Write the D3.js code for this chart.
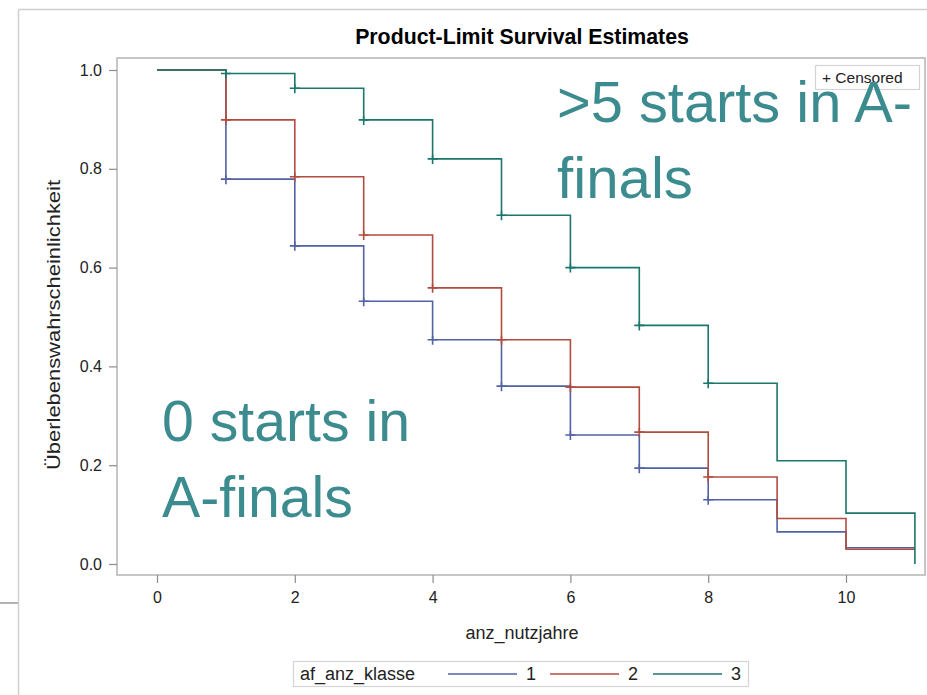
<!DOCTYPE html>
<html>
<head>
<meta charset="utf-8">
<script src="https://cdn.jsdelivr.net/npm/d3@7"></script>
<style>
  body { margin: 0; background: #fff; }
  svg { display: block; }
  .sas text { font-family: "Liberation Sans", Arial, sans-serif; fill: #222; }
</style>
</head>
<body>
<div id="chart"></div>
<script>
// Zeitpunkte (anz_nutzjahre) und Kaplan-Meier Schätzer je Gruppe
const times = [0, 1, 2, 3, 4, 5, 6, 7, 8, 9, 10, 11];
const surv1 = [1, 0.779, 0.644, 0.532, 0.454, 0.360, 0.261, 0.194, 0.130, 0.065, 0.033, 0.033];
const surv2 = [1, 0.899, 0.784, 0.666, 0.559, 0.454, 0.358, 0.267, 0.176, 0.092, 0.030, 0.030];
const surv3 = [1, 0.993, 0.963, 0.899, 0.820, 0.706, 0.600, 0.483, 0.366, 0.209, 0.103, 0];
// zensierte Beobachtungen
const cens1 = [1, 2, 3, 4, 5, 6, 7, 8];
const cens2 = [1, 2, 3, 4, 5, 6, 7, 8];
const cens3 = [1, 2, 3, 4, 5, 6, 7, 8];

const groups = ['1', '2', '3'];
const xTicks = [0, 2, 4, 6, 8, 10];
const yTicks = [0, 0.2, 0.4, 0.6, 0.8, 1.0];
const title = 'Product-Limit Survival Estimates';
const xLabel = 'anz_nutzjahre';
const yLabel = 'Überlebenswahrscheinlichkeit';
const legendTitle = 'af_anz_klasse';

const colors = ['#5262a4', '#b24c40', '#1b766c'];

const width = 927, height = 695;
const frame = { left: 117, top: 58, right: 925, bottom: 575 };

const svg = d3.select('#chart').append('svg')
  .attr('width', width)
  .attr('height', height)
  .attr('class', 'sas');

// Rahmen der Folie (Screenshot)
svg.append('line').attr('x1', 18.5).attr('y1', 9.5).attr('x2', 18.5).attr('y2', height)
  .attr('stroke', '#cfcfcf').attr('stroke-width', 1.5);
svg.append('line').attr('x1', 18.5).attr('y1', 9.5).attr('x2', width).attr('y2', 9.5)
  .attr('stroke', '#cfcfcf').attr('stroke-width', 1.5);
svg.append('line').attr('x1', 0).attr('y1', 603).attr('x2', 18).attr('y2', 603)
  .attr('stroke', '#9a9a9a').attr('stroke-width', 1.5);

const x = d3.scaleLinear().domain([0, 10]).range([157, 846]);
const y = d3.scaleLinear().domain([0, 1]).range([564, 70]);

// Titel
svg.append('text')
  .attr('x', 522).attr('y', 44)
  .attr('text-anchor', 'middle')
  .attr('font-size', '21.3px')
  .attr('font-weight', 'bold')
  .style('fill', '#000')
  .text(title);

// Plotrahmen
svg.append('rect')
  .attr('x', frame.left).attr('y', frame.top)
  .attr('width', frame.right - frame.left).attr('height', frame.bottom - frame.top)
  .attr('fill', 'none').attr('stroke', '#b4b4b4').attr('stroke-width', 1.5);

// Achsen
const yAxis = svg.append('g')
  .attr('transform', `translate(${frame.left},0)`)
  .call(d3.axisLeft(y).tickValues(yTicks).tickFormat(d3.format('.1f')).tickSize(8).tickPadding(7));
const xAxis = svg.append('g')
  .attr('transform', `translate(0,${frame.bottom})`)
  .call(d3.axisBottom(x).tickValues(xTicks).tickSize(8).tickPadding(9));
[xAxis, yAxis].forEach(a => {
  a.select('.domain').remove();
  a.selectAll('line').attr('stroke', '#8c8c8c').attr('stroke-width', 1.2);
  a.selectAll('text').attr('font-size', '16px').style('fill', '#222')
    .attr('font-family', '"Liberation Sans", Arial, sans-serif');
});

// Achsenbeschriftungen
svg.append('text')
  .attr('x', 522).attr('y', 639)
  .attr('text-anchor', 'middle')
  .attr('font-size', '18px')
  .text(xLabel);
svg.append('text')
  .attr('transform', 'rotate(-90)')
  .attr('x', -325).attr('y', 60)
  .attr('text-anchor', 'middle')
  .attr('font-size', '18px')
  .attr('textLength', 290)
  .attr('lengthAdjust', 'spacingAndGlyphs')
  .text(yLabel);

// Kurven
const stepLine = d3.line()
  .x(d => x(d[0]))
  .y(d => y(d[1]))
  .curve(d3.curveStepAfter);

const series = [surv1, surv2, surv3];
const censored = [cens1, cens2, cens3];

series.forEach((s, gi) => {
  const pts = times.map((t, i) => [t, s[i]]);
  svg.append('path')
    .attr('d', stepLine(pts))
    .attr('fill', 'none')
    .attr('stroke', colors[gi])
    .attr('stroke-width', 1.6);

  // Zensur-Marker "+"
  censored[gi].forEach(t => {
    const v = s[times.indexOf(t)];
    const cx = x(t), cy = y(v);
    svg.append('path')
      .attr('d', `M${cx - 5},${cy}H${cx + 5}M${cx},${cy - 4}V${cy + 5}`)
      .attr('stroke', colors[gi])
      .attr('stroke-width', 1.6)
      .attr('fill', 'none');
  });
});

// Legende Censored
svg.append('rect')
  .attr('x', 815.5).attr('y', 65.5).attr('width', 104).attr('height', 24)
  .attr('fill', '#fff').attr('stroke', '#d4d4d4').attr('stroke-width', 1.2);
svg.append('text')
  .attr('x', 822).attr('y', 83)
  .attr('font-size', '15.5px')
  .text('+ Censored');

// Legende Gruppen
const legend = svg.append('g');
legend.append('rect')
  .attr('x', 293.5).attr('y', 661.5).attr('width', 455).attr('height', 25)
  .attr('fill', '#fff').attr('stroke', '#d4d4d4').attr('stroke-width', 1.2);
legend.append('text')
  .attr('x', 300).attr('y', 680)
  .attr('font-size', '18px')
  .text(legendTitle);
const legX = d3.scaleOrdinal().domain(groups).range([448, 550, 653]);
groups.forEach((g, i) => {
  const lx = legX(g);
  legend.append('line')
    .attr('x1', lx).attr('x2', lx + 69)
    .attr('y1', 674).attr('y2', 674)
    .attr('stroke', colors[i]).attr('stroke-width', 1.6);
  legend.append('text')
    .attr('x', lx + 78).attr('y', 680)
    .attr('font-size', '18px')
    .text(g);
});

// Annotationen (Folientext)
const notes = [
  { text: '>5 starts in A-', x: 557, y: 122, w: 355 },
  { text: 'finals', x: 557, y: 197.5, w: 136 },
  { text: '0 starts in', x: 162, y: 441, w: 248 },
  { text: 'A-finals', x: 162, y: 516.5, w: 191 }
];
notes.forEach(n => {
  svg.append('text')
    .attr('x', n.x).attr('y', n.y)
    .attr('font-family', 'Lato, "Open Sans", sans-serif')
    .attr('font-size', '57px')
    .attr('textLength', n.w)
    .attr('lengthAdjust', 'spacingAndGlyphs')
    .style('fill', '#3b8b8f')
    .text(n.text);
});
</script>
</body>
</html>
